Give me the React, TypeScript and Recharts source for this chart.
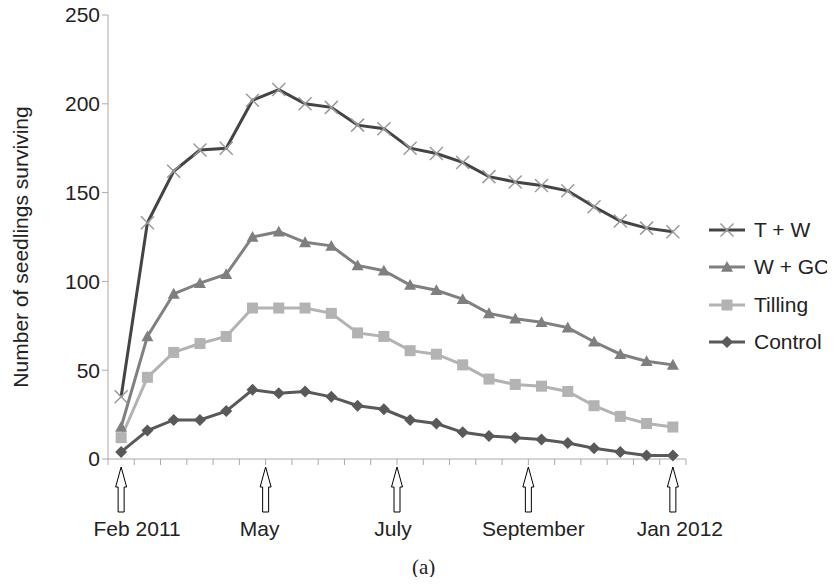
import React from 'react';
import { CartesianGrid, Legend, Line, LineChart, XAxis, YAxis } from 'recharts';

// 22 monthly-ish survey points, Feb 2011 .. Jan 2012
const TW = [35, 133, 162, 174, 175, 202, 208, 200, 198, 188, 186, 175, 172, 167, 159, 156, 154, 151, 142, 134, 130, 128];
const WGC = [18, 69, 93, 99, 104, 125, 128, 122, 120, 109, 106, 98, 95, 90, 82, 79, 77, 74, 66, 59, 55, 53];
const TILLING = [12, 46, 60, 65, 69, 85, 85, 85, 82, 71, 69, 61, 59, 53, 45, 42, 41, 38, 30, 24, 20, 18];
const CONTROL = [4, 16, 22, 22, 27, 39, 37, 38, 35, 30, 28, 22, 20, 15, 13, 12, 11, 9, 6, 4, 2, 2];

const Y_TICKS = [0, 50, 100, 150, 200, 250];
// arrow markers under the axis (category index, may sit between two points)
const ARROW_POS = [0, 5.5, 10.5, 15.5, 21];
const ARROW_LABELS = ['Feb 2011', 'May', 'July', 'September', 'Jan 2012'];

const data = TW.map((v, i) => ({
  idx: i,
  tw: v,
  wgc: WGC[i],
  tilling: TILLING[i],
  control: CONTROL[i],
}));

// tick marks sit between the categories
const BAND_TICKS = Array.from({ length: TW.length + 1 }, (_, i) => i - 0.5);

const FONT = 'Liberation Sans, Arial, sans-serif';
const FS = 21;

const XDot = ({ cx, cy, size = 6.5, stroke = '#9a9a9a' }: any) => (
  <g>
    <line x1={cx - size} y1={cy - size} x2={cx + size} y2={cy + size} stroke={stroke} strokeWidth={1.5} />
    <line x1={cx - size} y1={cy + size} x2={cx + size} y2={cy - size} stroke={stroke} strokeWidth={1.5} />
  </g>
);

const TriDot = ({ cx, cy, size = 6, fill = '#7f7f7f' }: any) => (
  <polygon points={`${cx},${cy - size} ${cx + size},${cy + size * 0.8} ${cx - size},${cy + size * 0.8}`} fill={fill} />
);

const SquareDot = ({ cx, cy, size = 5.5, fill = '#b3b3b3' }: any) => (
  <rect x={cx - size} y={cy - size} width={size * 2} height={size * 2} fill={fill} />
);

const DiamondDot = ({ cx, cy, size = 6, fill = '#595959' }: any) => (
  <polygon points={`${cx},${cy - size} ${cx + size},${cy} ${cx},${cy + size} ${cx - size},${cy}`} fill={fill} />
);

const SERIES = [
  { key: 'tw', name: 'T + W', color: '#444444', Dot: XDot },
  { key: 'wgc', name: 'W + GC', color: '#808080', Dot: TriDot },
  { key: 'tilling', name: 'Tilling', color: '#b3b3b3', Dot: SquareDot },
  { key: 'control', name: 'Control', color: '#595959', Dot: DiamondDot },
];

const ArrowTick = ({ x, y, payload }: any) => {
  const i = ARROW_POS.indexOf(payload.value);
  const label = ARROW_LABELS[i];
  const top = y;
  const w = 5.5;
  const s = 3;
  const head = 20;
  const len = 45;
  const pts = [
    [x, top],
    [x + w, top + head],
    [x + s, top + head],
    [x + s, top + len],
    [x - s, top + len],
    [x - s, top + head],
    [x - w, top + head],
  ]
    .map((p) => p.join(','))
    .join(' ');
  // labels are not quite centred on the arrows in the original
  const shift = i === 0 ? 16 : i === 4 ? 7 : i === 1 ? -6 : i === 2 ? -4 : 5;
  return (
    <g>
      <polygon points={pts} fill='#fff' stroke='#000' strokeWidth={1} />
      <text x={x + shift} y={top + 69} textAnchor='middle' fontSize={FS} fontFamily={FONT} fill='#222'>
        {label}
      </text>
    </g>
  );
};

const LegendContent = () => (
  <div style={{ fontFamily: FONT, fontSize: FS, color: '#222', whiteSpace: 'nowrap' }}>
    {SERIES.map((s) => (
      <div key={s.key} style={{ display: 'flex', alignItems: 'center', height: 37.5 }}>
        <svg width={40} height={20} style={{ marginRight: 7, flexShrink: 0 }}>
          <line x1={2} y1={10} x2={38} y2={10} stroke={s.color} strokeWidth={3} />
          <s.Dot cx={20} cy={10} />
        </svg>
        <span style={{ flexShrink: 0 }}>{s.name}</span>
      </div>
    ))}
  </div>
);

export default function App() {
  return (
    <div style={{ position: 'relative', margin: -8, width: 835, height: 585, background: '#fff' }}>
      <LineChart width={835} height={585} data={data} margin={{ top: 15, right: 149, left: 0, bottom: 38 }}>
        <CartesianGrid vertical={false} horizontal={false} />
        <XAxis
          dataKey='idx'
          type='number'
          domain={[-0.5, TW.length - 0.5]}
          ticks={BAND_TICKS}
          tickFormatter={() => ''}
          tickSize={6}
          height={8}
          stroke='#aaaaaa'
          allowDecimals
        />
        <XAxis
          xAxisId='arrows'
          dataKey='idx'
          type='number'
          domain={[-0.5, TW.length - 0.5]}
          ticks={ARROW_POS}
          axisLine={false}
          tickLine={false}
          tickSize={0}
          tickMargin={0}
          height={80}
          tick={<ArrowTick />}
          interval={0}
          allowDecimals
        />
        <YAxis
          domain={[0, 250]}
          ticks={Y_TICKS}
          width={108}
          tickSize={6}
          stroke='#aaaaaa'
          tick={{ fill: '#222', fontSize: FS, fontFamily: FONT }}
          label={{
            value: 'Number of seedlings surviving',
            angle: -90,
            position: 'insideLeft',
            dx: 16,
            dy: 10,
            style: { textAnchor: 'middle', fontSize: FS, fontFamily: FONT, fill: '#222' },
          }}
        />
        {SERIES.map((s) => (
          <Line
            key={s.key}
            dataKey={s.key}
            name={s.name}
            stroke={s.color}
            strokeWidth={3}
            dot={(p: any) => <s.Dot key={`${s.key}-${p.index}`} cx={p.cx} cy={p.cy} />}
            activeDot={false}
            isAnimationActive={false}
          />
        ))}
        <Legend
          layout='vertical'
          align='center'
          verticalAlign='middle'
          content={<LegendContent />}
          wrapperStyle={{ left: 707, top: 211, width: 128 }}
        />
      </LineChart>
      <div
        style={{
          position: 'absolute',
          left: 412,
          top: 555,
          fontFamily: 'Liberation Serif, Times New Roman, serif',
          fontSize: 21,
          color: '#222',
        }}
      >
        (a)
      </div>
    </div>
  );
}
